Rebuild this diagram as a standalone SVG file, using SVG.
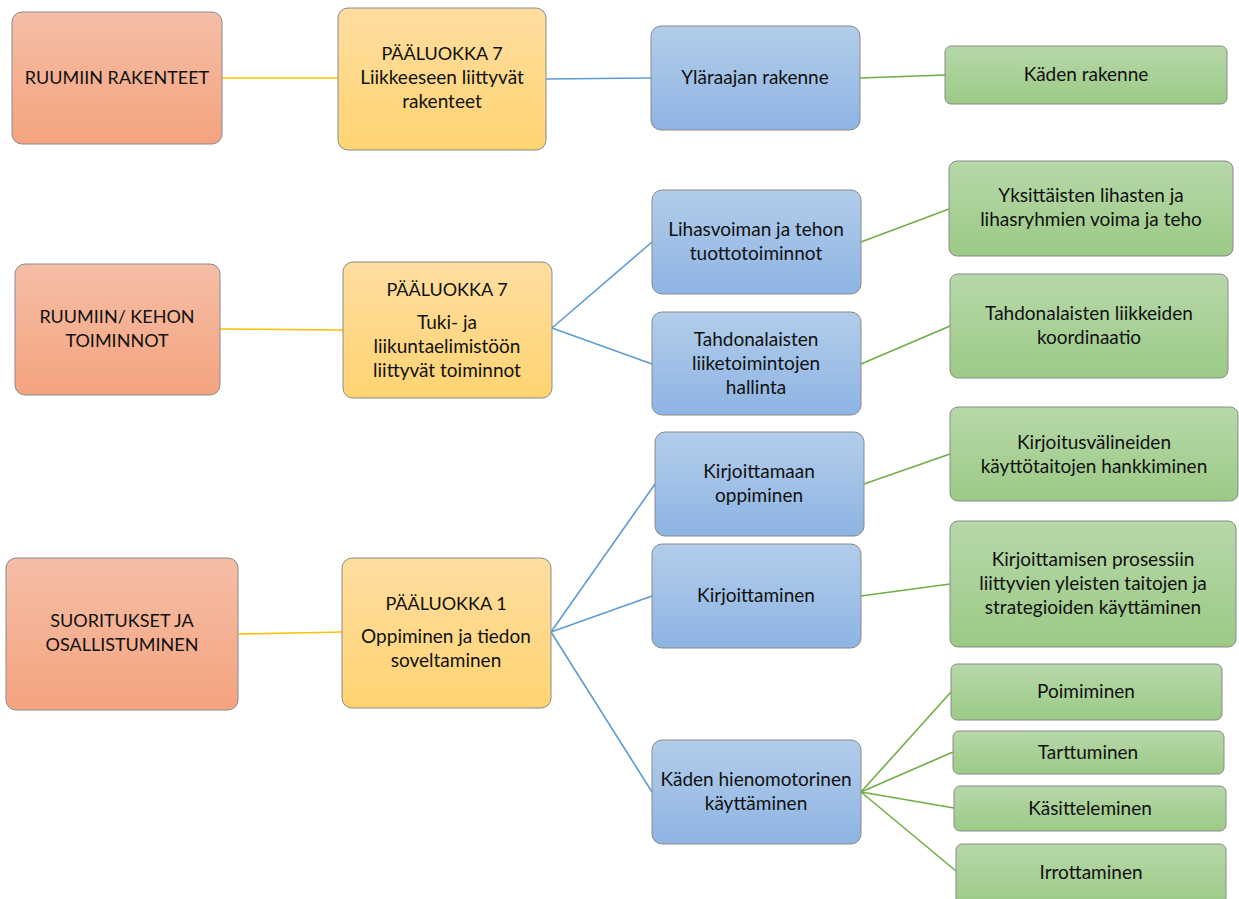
<svg xmlns="http://www.w3.org/2000/svg" width="1239" height="899" viewBox="0 0 1239 899">
<defs>
<linearGradient id="gO" x1="0" y1="0" x2="0" y2="1"><stop offset="0" stop-color="#F5BEA6"/><stop offset="1" stop-color="#F4A37F"/></linearGradient>
<linearGradient id="gY" x1="0" y1="0" x2="0" y2="1"><stop offset="0" stop-color="#FFDDA0"/><stop offset="1" stop-color="#FFD472"/></linearGradient>
<linearGradient id="gB" x1="0" y1="0" x2="0" y2="1"><stop offset="0" stop-color="#B2CDEA"/><stop offset="1" stop-color="#8EB4E3"/></linearGradient>
<linearGradient id="gG" x1="0" y1="0" x2="0" y2="1"><stop offset="0" stop-color="#B7D8A9"/><stop offset="1" stop-color="#9CCA86"/></linearGradient>
</defs>
<style>
.o,.y,.b,.g{stroke:#8a8a8a;stroke-width:1}
.o{fill:url(#gO)} .y{fill:url(#gY)} .b{fill:url(#gB)} .g{fill:url(#gG)}
text{font-family:Lato,"Open Sans",sans-serif;font-size:19px;fill:#111;text-anchor:middle}
.cap{font-size:18px}
.cy{stroke:#FFC000;stroke-width:1.6;fill:none}
.cb{stroke:#5B9BD5;stroke-width:1.6;fill:none}
.cg{stroke:#70AD47;stroke-width:1.6;fill:none}
</style>
<rect width="1239" height="899" fill="#fff"/>
<g id="connectors">
<line class="cy" x1="222" y1="78" x2="338" y2="78"/>
<line class="cb" x1="546" y1="79" x2="651" y2="78"/>
<line class="cg" x1="860" y1="78" x2="945" y2="75"/>
<line class="cy" x1="220" y1="329" x2="343" y2="330"/>
<line class="cb" x1="552" y1="328" x2="652" y2="242"/>
<line class="cb" x1="552" y1="328" x2="652" y2="364"/>
<line class="cg" x1="861" y1="242" x2="949" y2="209"/>
<line class="cg" x1="861" y1="364" x2="950" y2="326"/>
<line class="cy" x1="238" y1="634" x2="342" y2="632"/>
<line class="cb" x1="551" y1="632" x2="655" y2="484"/>
<line class="cb" x1="551" y1="632" x2="652" y2="596"/>
<line class="cb" x1="551" y1="632" x2="652" y2="792"/>
<line class="cg" x1="864" y1="484" x2="950" y2="454"/>
<line class="cg" x1="861" y1="596" x2="950" y2="584"/>
<line class="cg" x1="861" y1="792" x2="951" y2="692"/>
<line class="cg" x1="861" y1="792" x2="953" y2="752"/>
<line class="cg" x1="861" y1="792" x2="954" y2="808"/>
<line class="cg" x1="861" y1="792" x2="956" y2="871"/>
</g>
<g id="n-ruumiin-rakenteet"><rect class="o" x="12" y="12" width="210" height="132" rx="10"/><text class="cap" x="117" y="84">RUUMIIN RAKENTEET</text></g>
<g id="n-ruumiin-kehon"><rect class="o" x="15" y="264" width="205" height="131" rx="10"/><text class="cap" x="117" y="323">RUUMIIN/ KEHON</text><text class="cap" x="117" y="347">TOIMINNOT</text></g>
<g id="n-suoritukset"><rect class="o" x="6" y="558" width="232" height="152" rx="10"/><text class="cap" x="122" y="627">SUORITUKSET JA</text><text class="cap" x="122" y="651">OSALLISTUMINEN</text></g>
<g id="n-paaluokka7a"><rect class="y" x="338" y="8" width="208" height="142" rx="10"/><text class="cap" x="442" y="60">PÄÄLUOKKA 7</text><text x="442" y="84">Liikkeeseen liittyvät</text><text x="442" y="108">rakenteet</text></g>
<g id="n-paaluokka7b"><rect class="y" x="343" y="262" width="209" height="136" rx="10"/><text class="cap" x="447" y="296">PÄÄLUOKKA 7</text><text x="447" y="329">Tuki- ja</text><text x="447" y="353">liikuntaelimistöön</text><text x="447" y="377">liittyvät toiminnot</text></g>
<g id="n-paaluokka1"><rect class="y" x="342" y="558" width="209" height="150" rx="10"/><text class="cap" x="446" y="610">PÄÄLUOKKA 1</text><text x="446" y="643">Oppiminen ja tiedon</text><text x="446" y="667">soveltaminen</text></g>
<g id="n-ylaraajan"><rect class="b" x="651" y="26" width="209" height="104" rx="10"/><text x="755" y="84">Yläraajan rakenne</text></g>
<g id="n-lihasvoiman"><rect class="b" x="652" y="190" width="209" height="104" rx="10"/><text x="756" y="236">Lihasvoiman ja tehon</text><text x="756" y="260">tuottotoiminnot</text></g>
<g id="n-tahdonalaisten"><rect class="b" x="652" y="312" width="209" height="103" rx="10"/><text x="756" y="346">Tahdonalaisten</text><text x="756" y="370">liiketoimintojen</text><text x="756" y="394">hallinta</text></g>
<g id="n-kirjoittamaan"><rect class="b" x="655" y="432" width="209" height="104" rx="10"/><text x="759" y="478">Kirjoittamaan</text><text x="759" y="502">oppiminen</text></g>
<g id="n-kirjoittaminen"><rect class="b" x="652" y="544" width="209" height="104" rx="10"/><text x="756" y="602">Kirjoittaminen</text></g>
<g id="n-kaden-hieno"><rect class="b" x="652" y="740" width="209" height="104" rx="10"/><text x="756" y="786">Käden hienomotorinen</text><text x="756" y="810">käyttäminen</text></g>
<g id="n-kaden-rakenne"><rect class="g" x="945" y="46" width="282" height="58" rx="6"/><text x="1086" y="81">Käden rakenne</text></g>
<g id="n-yksittaisten"><rect class="g" x="949" y="161" width="284" height="95" rx="8"/><text x="1091" y="202">Yksittäisten lihasten ja</text><text x="1091" y="226">lihasryhmien voima ja teho</text></g>
<g id="n-tahdonalaisten-liikkeiden"><rect class="g" x="950" y="274" width="278" height="104" rx="8"/><text x="1089" y="320">Tahdonalaisten liikkeiden</text><text x="1089" y="344">koordinaatio</text></g>
<g id="n-kirjoitusvalineiden"><rect class="g" x="950" y="407" width="288" height="94" rx="8"/><text x="1094" y="449">Kirjoitusvälineiden</text><text x="1094" y="473">käyttötaitojen hankkiminen</text></g>
<g id="n-kirjoittamisen-prosessiin"><rect class="g" x="950" y="521" width="286" height="126" rx="8"/><text x="1093" y="566">Kirjoittamisen prosessiin</text><text x="1093" y="590">liittyvien yleisten taitojen ja</text><text x="1093" y="614">strategioiden käyttäminen</text></g>
<g id="n-poimiminen"><rect class="g" x="951" y="664" width="271" height="56" rx="6"/><text x="1086" y="698">Poimiminen</text></g>
<g id="n-tarttuminen"><rect class="g" x="953" y="731" width="271" height="43" rx="6"/><text x="1088" y="759">Tarttuminen</text></g>
<g id="n-kasitteleminen"><rect class="g" x="954" y="786" width="272" height="45" rx="6"/><text x="1090" y="815">Käsitteleminen</text></g>
<g id="n-irrottaminen"><rect class="g" x="956" y="844" width="270" height="62" rx="6"/><text x="1091" y="879">Irrottaminen</text></g>
</svg>
